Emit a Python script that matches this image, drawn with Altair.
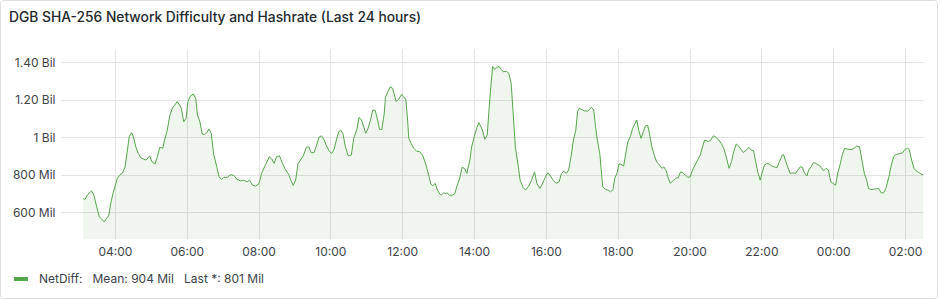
import altair as alt
import pandas as pd

# ---- data (minutes since 00:00 of day 1, NetDiff in millions) ----
minutes = [187, 190, 195, 201, 205, 209, 214, 218, 222, 226, 230, 233, 237, 240, 244, 248, 253, 257, 261, 264,
           268, 271, 275, 279, 283, 287, 292, 296, 298, 302, 307, 311, 315, 320, 323, 327, 332, 336, 340, 344,
           348, 351, 355, 359, 362, 366, 371, 375, 378, 382, 386, 390, 394, 397, 401, 405, 410, 414, 418, 422,
           428, 433, 439, 444, 450, 455, 461, 465, 470, 475, 481, 485, 490, 494, 498, 502, 506, 510, 515, 520,
           525, 531, 534, 538, 542, 546, 550, 554, 560, 564, 568, 573, 577, 581, 585, 589, 593, 598, 602, 606,
           610, 614, 617, 621, 625, 630, 635, 639, 644, 648, 652, 656, 659, 663, 667, 671, 675, 679, 682, 686,
           690, 692, 696, 700, 704, 707, 710, 714, 719, 722, 726, 729, 731, 735, 739, 744, 749, 754, 758, 761,
           765, 768, 771, 775, 779, 783, 785, 789, 793, 795, 799, 804, 808, 811, 816, 820, 824, 828, 833, 836,
           841, 845, 848, 854, 858, 862, 865, 868, 871, 874, 878, 882, 886, 889, 894, 898, 902, 905, 909, 914,
           917, 922, 926, 931, 935, 941, 945, 950, 954, 958, 963, 967, 972, 977, 982, 986, 990, 994, 998, 1002,
           1006, 1010, 1013, 1016, 1021, 1025, 1030, 1033, 1036, 1040, 1043, 1046, 1050, 1052, 1055, 1060, 1064, 1068, 1072, 1075,
           1079, 1082, 1085, 1090, 1093, 1097, 1101, 1105, 1109, 1112, 1115, 1119, 1123, 1126, 1130, 1133, 1137, 1141, 1145, 1150,
           1154, 1157, 1161, 1164, 1168, 1172, 1176, 1181, 1185, 1189, 1193, 1197, 1201, 1205, 1210, 1214, 1218, 1221, 1225, 1229,
           1232, 1236, 1240, 1244, 1249, 1253, 1257, 1261, 1266, 1270, 1273, 1278, 1282, 1286, 1290, 1295, 1299, 1303, 1307, 1310,
           1314, 1318, 1321, 1325, 1329, 1333, 1338, 1342, 1346, 1350, 1355, 1357, 1360, 1364, 1368, 1372, 1377, 1381, 1385, 1388,
           1392, 1396, 1399, 1403, 1407, 1411, 1416, 1420, 1424, 1428, 1432, 1436, 1440, 1444, 1448, 1452, 1455, 1459, 1463, 1467,
           1472, 1475, 1479, 1484, 1488, 1492, 1496, 1499, 1503, 1508, 1512, 1516, 1520, 1524, 1528, 1533, 1537, 1541, 1544, 1548,
           1552, 1556, 1560, 1564, 1567, 1571, 1575, 1579, 1583, 1587, 1590]
netdiff = [673, 668, 696, 714, 691, 637, 575, 563, 548, 566, 584, 646, 703, 735, 780, 798, 810, 842, 932, 1003,
           1024, 1003, 949, 914, 892, 885, 878, 892, 901, 869, 857, 896, 946, 941, 985, 1030, 1119, 1155, 1172, 1190,
           1172, 1155, 1083, 1101, 1190, 1220, 1231, 1208, 1119, 1083, 1017, 1015, 1026, 1044, 1021, 910, 845, 789, 775, 786,
           786, 800, 796, 775, 767, 771, 762, 771, 744, 739, 754, 807, 842, 869, 896, 885, 860, 896, 901, 860,
           828, 798, 771, 743, 771, 860, 878, 896, 946, 949, 917, 919, 958, 1000, 1008, 990, 958, 926, 914, 932,
           985, 1030, 1039, 1020, 950, 900, 905, 994, 1039, 1106, 1092, 1053, 1021, 1048, 1092, 1146, 1142, 1092, 1042, 1042,
           1128, 1213, 1243, 1270, 1261, 1226, 1190, 1203, 1229, 1217, 1203, 1092, 994, 967, 941, 926, 923, 905, 869, 837,
           789, 750, 741, 754, 718, 696, 691, 703, 700, 703, 691, 691, 700, 735, 780, 839, 834, 807, 878, 949,
           1012, 1053, 1078, 1039, 989, 1012, 1146, 1270, 1377, 1363, 1374, 1377, 1359, 1350, 1352, 1342, 1288, 1146, 949, 842,
           771, 732, 718, 739, 762, 815, 754, 727, 750, 780, 810, 798, 771, 754, 762, 807, 819, 807, 825, 896,
           985, 1039, 1137, 1155, 1146, 1140, 1140, 1149, 1160, 1146, 1056, 985, 914, 842, 735, 721, 718, 709, 720, 780,
           810, 857, 857, 846, 905, 976, 1003, 1048, 1074, 1092, 1039, 994, 1030, 1060, 1065, 1021, 949, 905, 869, 851,
           834, 842, 821, 786, 754, 767, 780, 784, 815, 810, 798, 786, 789, 825, 857, 882, 905, 941, 985, 981,
           976, 989, 1008, 1000, 985, 967, 941, 900, 834, 869, 914, 964, 953, 935, 919, 932, 946, 932, 928, 878,
           815, 771, 807, 851, 860, 857, 846, 842, 837, 869, 905, 908, 878, 842, 807, 810, 807, 825, 842, 842,
           810, 793, 825, 842, 866, 860, 851, 839, 821, 834, 825, 762, 754, 744, 815, 860, 905, 941, 937, 935,
           935, 941, 953, 949, 878, 807, 771, 727, 721, 723, 725, 727, 703, 703, 727, 789, 851, 896, 908, 910,
           914, 917, 935, 941, 935, 878, 834, 819, 812, 803, 801]

series_name = "NetDiff"
mean_label = "904 Mil"
last_label = "801 Mil"
title_text = "DGB SHA-256 Network Difficulty and Hashrate (Last 24 hours)"

x_domain = [150, 1590]
x_tick_values = [240, 360, 480, 600, 720, 840, 960, 1080, 1200, 1320, 1440, 1560]
x_tick_labels = ["04:00", "06:00", "08:00", "10:00", "12:00", "14:00", "16:00", "18:00", "20:00", "22:00", "00:00", "02:00"]
y_domain = [457, 1471]
y_tick_values = [600, 800, 1000, 1200, 1400]
y_tick_labels = ["600 Mil", "800 Mil", "1 Bil", "1.20 Bil", "1.40 Bil"]

NB = "\u00a0"
legend_text = f"{series_name}:{NB}{NB} Mean: {mean_label}{NB}{NB} Last *: {last_label}"

df = pd.DataFrame({"minute": minutes, "value": netdiff, "series": legend_text})


def label_expr(values, labels):
    expr = "''"
    for v, l in reversed(list(zip(values, labels))):
        expr = f"datum.value == {v} ? '{l}' : ({expr})"
    return expr


GREEN = "#56A64B"
TEXT = "#3d434a"
FONT = "Inter"

x_enc = alt.X("minute:Q", scale=alt.Scale(domain=x_domain, nice=False, zero=False),
              axis=alt.Axis(values=x_tick_values, labelExpr=label_expr(x_tick_values, x_tick_labels),
                            title=None, grid=True, domain=False, ticks=False, labelPadding=7,
                            labelFontSize=12, labelColor=TEXT, labelFont=FONT, gridColor="#e3e3e3"))
y_enc = alt.Y("value:Q", scale=alt.Scale(domain=y_domain, nice=False, zero=False),
              axis=alt.Axis(values=y_tick_values, labelExpr=label_expr(y_tick_values, y_tick_labels),
                            title=None, grid=True, domain=False, ticks=False, labelPadding=6,
                            labelFontSize=12, labelColor=TEXT, labelFont=FONT, gridColor="#e3e3e3"))

base = alt.Chart(df)

area = base.mark_area(color=GREEN, opacity=0.1, clip=True).encode(
    x=x_enc, y=y_enc, y2=alt.value(190)
)

line = base.mark_line(strokeWidth=1, clip=True).encode(
    x="minute:Q", y="value:Q",
    color=alt.Color("series:N", scale=alt.Scale(range=[GREEN]),
                    legend=alt.Legend(orient="none", legendX=-49, legendY=221, title=None,
                                      symbolType="stroke", symbolStrokeWidth=4, symbolSize=196,
                                      labelOffset=9, labelFontSize=12, labelFont=FONT,
                                      labelColor=TEXT, padding=0, labelLimit=600))
)

single = alt.Data(values=[{"title": title_text}])

border = alt.Chart(single).mark_rect(
    fill=None, stroke="#dcdee0", strokeWidth=1, cornerRadius=3
).encode(x=alt.value(-60.5), x2=alt.value(876.5), y=alt.value(-48.5), y2=alt.value(249.5))

title = alt.Chart(single).mark_text(
    align="left", baseline="alphabetic", fontSize=13.8, fontWeight=500, font=FONT, color="#24292e"
).encode(text="title:N", x=alt.value(-52), y=alt.value(-27))

chart = alt.layer(border, title, area, line).properties(
    width=862, height=190,
    padding={"left": 61, "top": 49, "right": 17, "bottom": 61},
    autosize=alt.AutoSizeParams(type="none"),
).configure_view(stroke=None)

chart.save("out.html", embed_options={"renderer": "svg", "actions": False})
